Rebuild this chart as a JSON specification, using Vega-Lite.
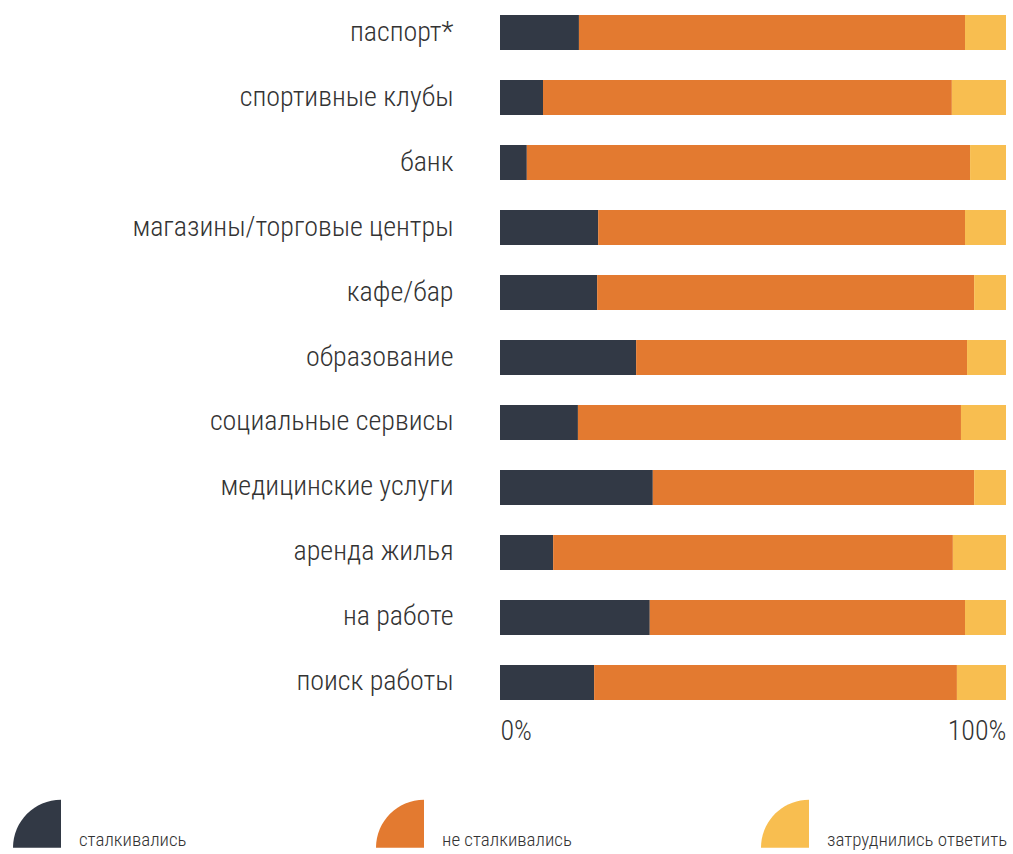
{
  "$schema": "https://vega.github.io/schema/vega-lite/v6.json",
  "width": 506,
  "height": 715,
  "autosize": {"type": "none"},
  "padding": {"left": 500, "top": 0, "right": 7, "bottom": 139},
  "background": "white",
  "config": {
    "view": {"stroke": null},
    "font": "Roboto Condensed, Liberation Sans Narrow, DejaVu Sans Condensed, sans-serif"
  },
  "data": {
    "values": [
      {"cat": "паспорт*", "resp": "сталкивались", "o": 1, "v": 15.6},
      {"cat": "паспорт*", "resp": "не сталкивались", "o": 2, "v": 76.3},
      {"cat": "паспорт*", "resp": "затруднились ответить", "o": 3, "v": 8.1},
      {"cat": "спортивные клубы", "resp": "сталкивались", "o": 1, "v": 8.5},
      {"cat": "спортивные клубы", "resp": "не сталкивались", "o": 2, "v": 80.8},
      {"cat": "спортивные клубы", "resp": "затруднились ответить", "o": 3, "v": 10.7},
      {"cat": "банк", "resp": "сталкивались", "o": 1, "v": 5.3},
      {"cat": "банк", "resp": "не сталкивались", "o": 2, "v": 87.6},
      {"cat": "банк", "resp": "затруднились ответить", "o": 3, "v": 7.1},
      {"cat": "магазины/торговые центры", "resp": "сталкивались", "o": 1, "v": 19.4},
      {"cat": "магазины/торговые центры", "resp": "не сталкивались", "o": 2, "v": 72.5},
      {"cat": "магазины/торговые центры", "resp": "затруднились ответить", "o": 3, "v": 8.1},
      {"cat": "кафе/бар", "resp": "сталкивались", "o": 1, "v": 19.2},
      {"cat": "кафе/бар", "resp": "не сталкивались", "o": 2, "v": 74.5},
      {"cat": "кафе/бар", "resp": "затруднились ответить", "o": 3, "v": 6.3},
      {"cat": "образование", "resp": "сталкивались", "o": 1, "v": 26.9},
      {"cat": "образование", "resp": "не сталкивались", "o": 2, "v": 65.4},
      {"cat": "образование", "resp": "затруднились ответить", "o": 3, "v": 7.7},
      {"cat": "социальные сервисы", "resp": "сталкивались", "o": 1, "v": 15.4},
      {"cat": "социальные сервисы", "resp": "не сталкивались", "o": 2, "v": 75.7},
      {"cat": "социальные сервисы", "resp": "затруднились ответить", "o": 3, "v": 8.9},
      {"cat": "медицинские услуги", "resp": "сталкивались", "o": 1, "v": 30.2},
      {"cat": "медицинские услуги", "resp": "не сталкивались", "o": 2, "v": 63.5},
      {"cat": "медицинские услуги", "resp": "затруднились ответить", "o": 3, "v": 6.3},
      {"cat": "аренда жилья", "resp": "сталкивались", "o": 1, "v": 10.5},
      {"cat": "аренда жилья", "resp": "не сталкивались", "o": 2, "v": 79.0},
      {"cat": "аренда жилья", "resp": "затруднились ответить", "o": 3, "v": 10.5},
      {"cat": "на работе", "resp": "сталкивались", "o": 1, "v": 29.6},
      {"cat": "на работе", "resp": "не сталкивались", "o": 2, "v": 62.3},
      {"cat": "на работе", "resp": "затруднились ответить", "o": 3, "v": 8.1},
      {"cat": "поиск работы", "resp": "сталкивались", "o": 1, "v": 18.6},
      {"cat": "поиск работы", "resp": "не сталкивались", "o": 2, "v": 71.7},
      {"cat": "поиск работы", "resp": "затруднились ответить", "o": 3, "v": 9.7}
    ]
  },
  "mark": {"type": "bar", "strokeWidth": 0},
  "encoding": {
    "y": {
      "field": "cat",
      "type": "nominal",
      "sort": null,
      "scale": {"paddingInner": 0.4615, "paddingOuter": 0.2308},
      "axis": {
        "title": null,
        "domain": false,
        "ticks": false,
        "labelFontSize": 28,
        "labelFontWeight": 300,
        "labelColor": "#333333",
        "labelPadding": 47,
        "labelLimit": 400
      }
    },
    "x": {
      "field": "v",
      "type": "quantitative",
      "stack": "normalize",
      "scale": {"domain": [0, 1]},
      "axis": {
        "title": null,
        "values": [0, 1],
        "format": ".0%",
        "labelFlush": true,
        "domain": false,
        "ticks": false,
        "grid": false,
        "labelFontSize": 28,
        "labelFontWeight": 300,
        "labelColor": "#333333",
        "labelPadding": 2
      }
    },
    "color": {
      "field": "resp",
      "type": "nominal",
      "scale": {
        "domain": ["сталкивались", "не сталкивались", "затруднились ответить"],
        "range": ["#323945", "#e37a30", "#f8be50"]
      },
      "legend": {
        "title": null,
        "orient": "none",
        "legendX": -487,
        "legendY": 807,
        "direction": "horizontal",
        "columns": 3,
        "columnPadding": 189,
        "symbolType": "M1,0.7 L1,-1.3 A2,2 0 0,0 -1,0.7 Z",
        "symbolSize": 2304,
        "symbolStrokeWidth": 0,
        "symbolOpacity": 1,
        "labelFontSize": 19,
        "labelFontWeight": 300,
        "labelColor": "#333333",
        "labelBaseline": "top",
        "labelOffset": 18,
        "labelLimit": 300
      }
    },
    "order": {"field": "o", "type": "quantitative"}
  }
}
